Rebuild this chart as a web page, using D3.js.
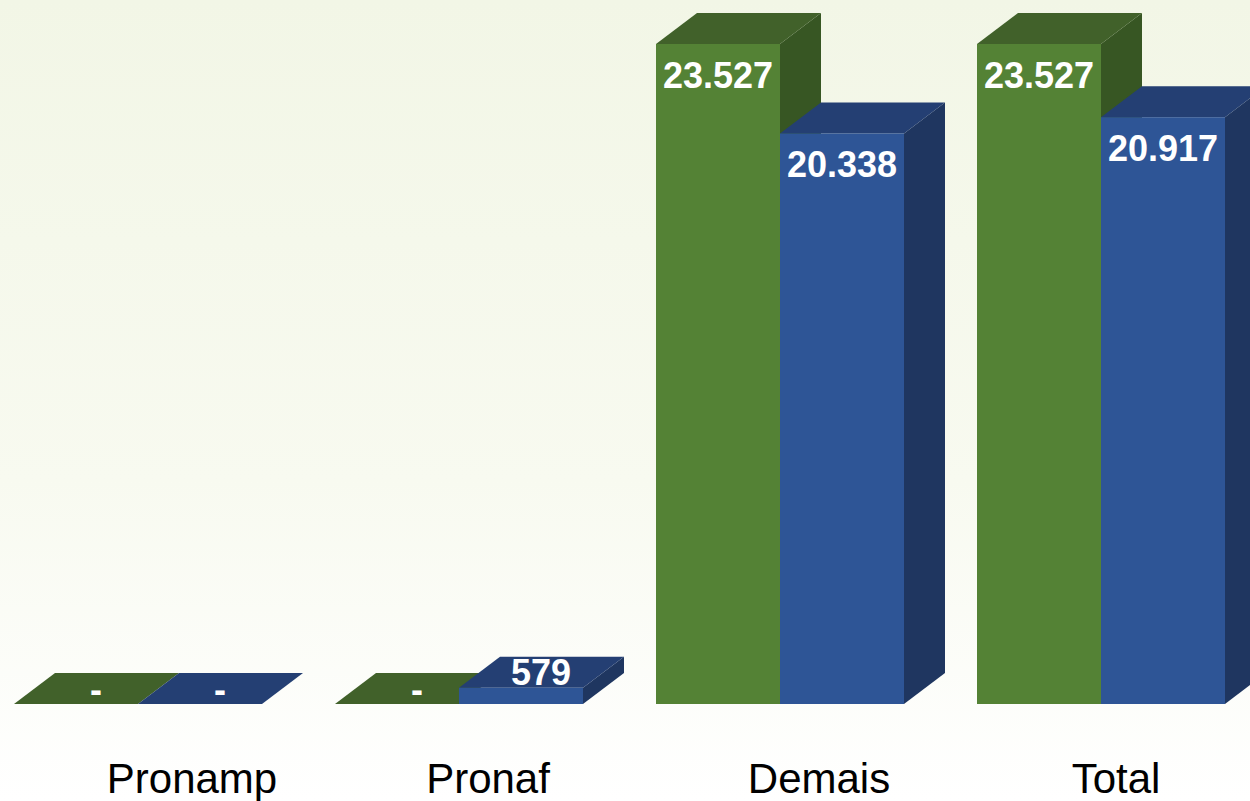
<!DOCTYPE html>
<html>
<head>
<meta charset="utf-8">
<script src="https://cdn.jsdelivr.net/npm/d3@7"></script>
<style>
  html, body { margin: 0; padding: 0; overflow: hidden; }
  svg { display: block; }
</style>
</head>
<body>
<svg id="chart" width="1250" height="801"></svg>
<script>
// ---- data ----
const categories = ["Pronamp", "Pronaf", "Demais", "Total"];
const seriesNames = ["Série 1", "Série 2"];
const series1 = [0, 0, 23527, 23527];
const series2 = [0, 579, 20338, 20917];

// ---- layout / style (not data) ----
const labelNudge = [54, 29, 39, 15];   // category label offset from group centre
const W = 1250, H = 801;
const depthX = 41, depthY = 31;
const colors = [
  { front: "#548235", top: "#41612a", side: "#375623" },
  { front: "#2e5596", top: "#243f73", side: "#1f3660" }
];

const svg = d3.select("#chart");
const defs = svg.append("defs");
const grad = defs.append("linearGradient").attr("id", "bg")
  .attr("x1", 0).attr("y1", 0).attr("x2", 0).attr("y2", 1);
grad.append("stop").attr("offset", "0%").attr("stop-color", "#f2f6e6");
grad.append("stop").attr("offset", "60%").attr("stop-color", "#f8faf0");
grad.append("stop").attr("offset", "100%").attr("stop-color", "#ffffff");
svg.append("rect").attr("width", W).attr("height", H).attr("fill", "url(#bg)");

const x0 = d3.scaleBand().domain(categories).range([14, 1225])
  .paddingInner(73 / 321).paddingOuter(0);
const x1 = d3.scaleBand().domain(seriesNames).range([0, x0.bandwidth()]).padding(0);
const y = d3.scaleLinear().domain([0, 23527]).range([704, 44]);

const fmt = d3.formatLocale({ decimal: ",", thousands: ".", grouping: [3], currency: ["", ""] }).format(",d");

const data = [];
categories.forEach((c, i) => {
  [series1, series2].forEach((s, j) => {
    data.push({ cat: c, ci: i, sname: seriesNames[j], si: j, v: s[i] });
  });
});

const g = svg.append("g");
const bars = g.selectAll("g.bar").data(data).join("g").attr("class", "bar");

bars.each(function (d) {
  const sel = d3.select(this);
  const x = x0(d.cat) + x1(d.sname);
  const w = x1.bandwidth();
  const yt = y(d.v), yb = y(0);
  const col = colors[d.si];
  // side face
  sel.append("path")
    .attr("d", `M${x + w},${yt} L${x + w + depthX},${yt - depthY} L${x + w + depthX},${yb - depthY} L${x + w},${yb} Z`)
    .attr("fill", col.side);
  // top face
  sel.append("path")
    .attr("d", `M${x},${yt} L${x + w},${yt} L${x + w + depthX},${yt - depthY} L${x + depthX},${yt - depthY} Z`)
    .attr("fill", col.top);
  // front face
  sel.append("rect")
    .attr("x", x).attr("y", yt).attr("width", w).attr("height", Math.max(0, yb - yt))
    .attr("fill", col.front);
});

// value labels
bars.append("text")
  .attr("font-family", "Liberation Sans, Arial, sans-serif")
  .attr("font-weight", "bold")
  .attr("font-size", 36)
  .attr("fill", "#ffffff")
  .attr("text-anchor", "middle")
  .each(function (d) {
    const x = x0(d.cat) + x1(d.sname);
    const w = x1.bandwidth();
    const yt = y(d.v), yb = y(0);
    const t = d3.select(this);
    if (yb - yt > 50) {
      t.attr("x", x + w / 2).attr("y", yt + 44);
    } else {
      t.attr("x", x + w / 2 + 20).attr("y", yt - depthY / 2 + 13);
    }
    t.text(d.v === 0 ? "-" : fmt(d.v));
  });

// category labels
g.selectAll("text.cat").data(categories).join("text")
  .attr("class", "cat")
  .attr("x", (c, i) => x0(c) + x0.bandwidth() / 2 + labelNudge[i])
  .attr("y", 793)
  .attr("text-anchor", "middle")
  .attr("font-family", "Liberation Sans, Arial, sans-serif")
  .attr("font-size", 42)
  .attr("fill", "#000000")
  .text(c => c);
</script>
</body>
</html>
